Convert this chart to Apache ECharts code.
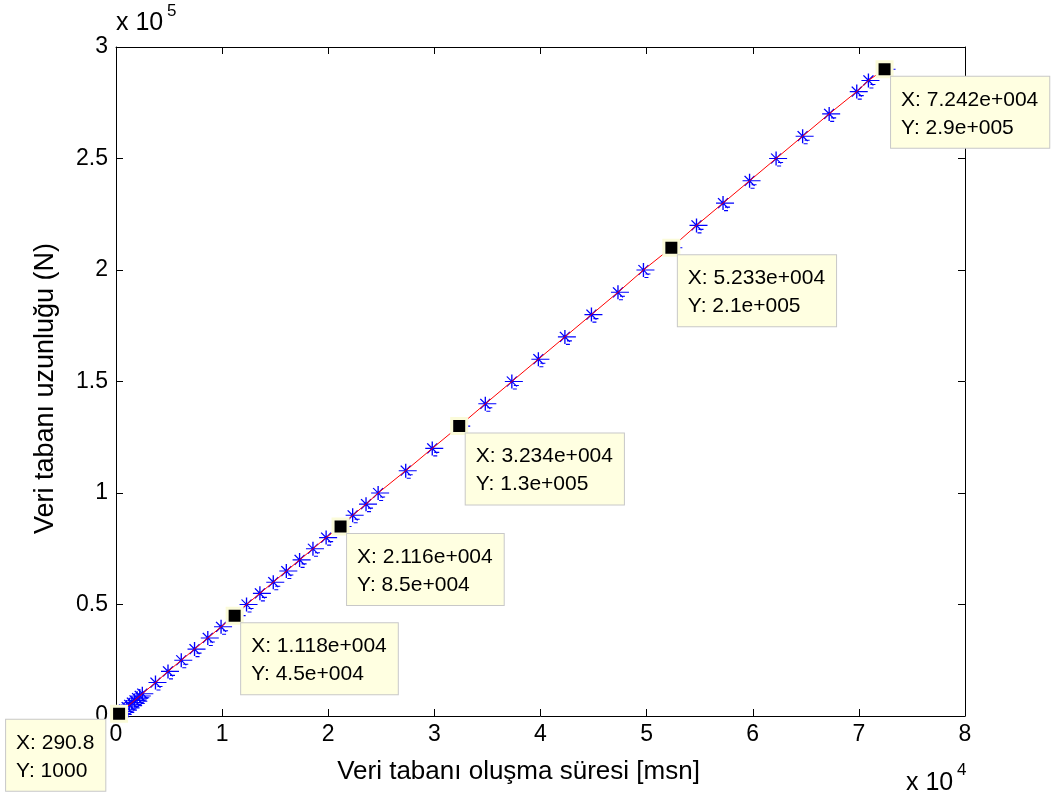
<!DOCTYPE html>
<html>
<head>
<meta charset="utf-8">
<script src="https://cdn.jsdelivr.net/npm/echarts@6/dist/echarts.min.js"></script>
<style>
  html, body { margin: 0; padding: 0; background: #fff; }
  #chart { width: 1051px; height: 798px; }
</style>
</head>
<body>
<div id="chart"></div>
<script>
// measured points: database build time [ms] vs database length (N)
var buildTime = [290.8, 520, 770, 1010, 1250, 1500, 1750, 1990, 2240, 2480,
    3720, 4900, 6150, 7400, 8650, 9900, 11180, 12300, 13560, 14820,
    16050, 17300, 18560, 19800, 21160, 22300, 23560, 24700, 27300, 29800,
    32340, 34800, 37300, 39800, 42300, 44800, 47300, 49700, 52330, 54700,
    57200, 59700, 62200, 64700, 67200, 69800, 70900, 72420];
var dbLength = [1000, 2000, 3000, 4000, 5000, 6000, 7000, 8000, 9000, 10000,
    15000, 20000, 25000, 30000, 35000, 40000, 45000, 50000, 55000, 60000,
    65000, 70000, 75000, 80000, 85000, 90000, 95000, 100000, 110000, 120000,
    130000, 140000, 150000, 160000, 170000, 180000, 190000, 200000, 210000, 220000,
    230000, 240000, 250000, 260000, 270000, 280000, 285000, 290000];

// data tips
var tipX = [290.8, 11180, 21160, 32340, 52330, 72420];
var tipY = [1000, 45000, 85000, 130000, 210000, 290000];

var xTicks = [0, 1, 2, 3, 4, 5, 6, 7, 8];          // x 10^4
var yTicks = [0, 0.5, 1, 1.5, 2, 2.5, 3];          // x 10^5

var FONT = 'Liberation Sans, Arial, sans-serif';

// matlab-ish %.4g
function g4(v) {
    var s = Number(v).toPrecision(4);
    if (s.indexOf('e') >= 0) {
        var parts = s.split('e');
        var m = parts[0];
        if (m.indexOf('.') >= 0) m = m.replace(/0+$/, '').replace(/\.$/, '');
        var sign = parts[1].charAt(0);
        var ex = parts[1].slice(1);
        while (ex.length < 3) ex = '0' + ex;
        return m + 'e' + sign + ex;
    }
    if (s.indexOf('.') >= 0) s = s.replace(/0+$/, '').replace(/\.$/, '');
    return s;
}

var points = buildTime.map(function (x, i) { return [x, dbLength[i]]; });
var tips = tipX.map(function (x, i) {
    var item = { value: [x, tipY[i]] };
    if (i === 0) {
        item.label = { position: [-104, 15] };
    }
    return item;
});

var asterisk = 'path://M-7,0L11,0M0,-7L0,7M-5,-5L5,5M-5,5L5,-5M2,4L7,4M1,7.5L5,7.5';

function axisLine() { return { show: true, onZero: false, lineStyle: { color: '#000', width: 1 } }; }
function tickIn() { return { show: true, inside: true, length: 7, lineStyle: { color: '#000' } }; }

var chart = echarts.init(document.getElementById('chart'));
chart.setOption({
    animation: false,
    backgroundColor: '#fff',
    textStyle: { fontFamily: FONT },
    grid: { left: 116, right: 86, top: 47, bottom: 82, containLabel: false },
    xAxis: [{
        type: 'value', min: 0, max: 80000, interval: 10000, position: 'bottom',
        axisLine: axisLine(), axisTick: tickIn(), splitLine: { show: false },
        axisLabel: {
            color: '#000', fontSize: 23, fontFamily: FONT, margin: 7,
            formatter: function (v) { return String(xTicks[Math.round(v / 10000)]); }
        },
        name: 'Veri tabanı oluşma süresi [msn]', nameLocation: 'middle', nameGap: 43,
        nameTextStyle: { color: '#000', fontSize: 26, fontFamily: FONT, padding: [0, 44, 0, 0] }
    }, {
        type: 'value', min: 0, max: 80000, interval: 10000, position: 'top',
        axisLine: axisLine(), axisTick: tickIn(), axisLabel: { show: false }, splitLine: { show: false }
    }],
    yAxis: [{
        type: 'value', min: 0, max: 300000, interval: 50000, position: 'left',
        axisLine: axisLine(), axisTick: tickIn(), splitLine: { show: false },
        axisLabel: {
            color: '#000', fontSize: 23, fontFamily: FONT, margin: 8,
            formatter: function (v) { return String(yTicks[Math.round(v / 50000)]); }
        },
        name: 'Veri tabanı uzunluğu (N)', nameLocation: 'middle', nameGap: 57,
        nameTextStyle: { color: '#000', fontSize: 27, fontFamily: FONT, padding: [0, 14, 0, 0] }
    }, {
        type: 'value', min: 0, max: 300000, interval: 50000, position: 'right',
        axisLine: axisLine(), axisTick: tickIn(), axisLabel: { show: false }, splitLine: { show: false }
    }],
    series: [{
        type: 'scatter',
        data: points,
        symbol: asterisk,
        symbolSize: [18, 14.5],
        symbolOffset: [2, 0.25],
        itemStyle: { color: 'rgba(0,0,0,0)', borderColor: '#0000ff', borderWidth: 1.2, opacity: 1 },
        z: 2
    }, {
        type: 'line',
        data: points,
        showSymbol: false,
        lineStyle: { color: '#ff0000', width: 1 },
        z: 3
    }, {
        type: 'scatter',
        data: tips,
        symbol: 'rect',
        symbolSize: 15,
        itemStyle: { color: '#000', borderColor: '#fbfbd9', borderWidth: 3, opacity: 1 },
        label: {
            show: true,
            position: [15.5, 16.5],
            align: 'left',
            verticalAlign: 'top',
            color: '#000',
            fontSize: 21,
            fontFamily: FONT,
            lineHeight: 28,
            backgroundColor: '#ffffe1',
            borderColor: '#c8c8c8',
            borderWidth: 1,
            padding: [9, 11, 6, 10],
            formatter: function (p) {
                return 'X: ' + g4(p.value[0]) + '\nY: ' + g4(p.value[1]);
            }
        },
        z: 5
    }],
    graphic: [
        { type: 'text', left: 116, top: 11, style: { text: 'x 10', fill: '#000', font: '25px ' + FONT } },
        { type: 'text', left: 167, top: 3, style: { text: '5', fill: '#000', font: '17px ' + FONT } },
        { type: 'text', left: 906, top: 771, style: { text: 'x 10', fill: '#000', font: '25px ' + FONT } },
        { type: 'text', left: 957, top: 762, style: { text: '4', fill: '#000', font: '17px ' + FONT } }
    ]
});
</script>
</body>
</html>
